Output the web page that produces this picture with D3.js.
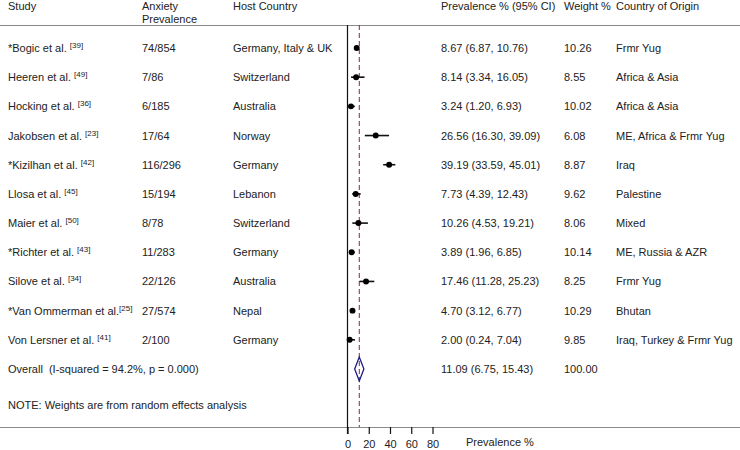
<!DOCTYPE html>
<html><head><meta charset="utf-8">
<script src="https://cdn.jsdelivr.net/npm/d3@7"></script>
<style>body{margin:0;background:#fff}svg{display:block;font-family:"Liberation Sans",Arial,sans-serif}text{white-space:pre}</style>
</head><body><svg id="c" width="740" height="450"></svg>
<script>
const studies = ["*Bogic et al.","Heeren et al.","Hocking et al.","Jakobsen et al.","*Kizilhan et al.","Llosa et al.","Maier et al.","*Richter et al.","Silove et al.","*Van Ommerman et al.","Von Lersner et al."];
const refs = ["39","49","36","23","42","45","50","43","34","25","41"];
const anxiety = ["74/854","7/86","6/185","17/64","116/296","15/194","8/78","11/283","22/126","27/574","2/100"];
const hostCountry = ["Germany, Italy & UK","Switzerland","Australia","Norway","Germany","Lebanon","Switzerland","Germany","Australia","Nepal","Germany"];
const prevalence = [8.67,8.14,3.24,26.56,39.19,7.73,10.26,3.89,17.46,4.70,2.00];
const ciLow = [6.87,3.34,1.20,16.30,33.59,4.39,4.53,1.96,11.28,3.12,0.24];
const ciHigh = [10.76,16.05,6.93,39.09,45.01,12.43,19.21,6.85,25.23,6.77,7.04];
const weights = ["10.26","8.55","10.02","6.08","8.87","9.62","8.06","10.14","8.25","10.29","9.85"];
const origin = ["Frmr Yug","Africa & Asia","Africa & Asia","ME, Africa & Frmr Yug","Iraq","Palestine","Mixed","ME, Russia & AZR","Frmr Yug","Bhutan","Iraq, Turkey & Frmr Yug"];
const overall = {label:"Overall  (I-squared = 94.2%, p = 0.000)", est:11.09, lo:6.75, hi:15.43, w:"100.00"};
const xTicks = [0,20,40,60,80];

const svg = d3.select("#c");
const W = 740;
const txt = "#222";
const x = d3.scaleLinear().domain([0,80]).range([347.5,432.5]);
const rowsIdx = d3.range(studies.length + 1);
const y = d3.scalePoint().domain(rowsIdx).range([48, 369]);
const fmt = d3.format(".2f");
const col = {study:8, anx:142, host:233, ci:441, w:564, orig:616};

// header
const hdr = svg.append("g").attr("fill", txt).attr("font-size", 11);
hdr.append("text").attr("x", col.study).attr("y", 10).text("Study");
hdr.append("text").attr("x", col.anx).attr("y", 10).text("Anxiety");
hdr.append("text").attr("x", col.anx).attr("y", 23).text("Prevalence");
hdr.append("text").attr("x", col.host).attr("y", 10).text("Host Country");
hdr.append("text").attr("x", col.ci).attr("y", 10).text("Prevalence % (95% CI)");
hdr.append("text").attr("x", col.w).attr("y", 10).text("Weight %");
hdr.append("text").attr("x", col.orig).attr("y", 10).text("Country of Origin");

svg.append("line").attr("x1",0).attr("x2",W).attr("y1",25.5).attr("y2",25.5).attr("stroke","#8a8a8a").attr("stroke-width",1);
svg.append("line").attr("x1",0).attr("x2",W).attr("y1",427.5).attr("y2",427.5).attr("stroke","#8a8a8a").attr("stroke-width",1);

// vertical lines
svg.append("line").attr("x1",x(0)).attr("x2",x(0)).attr("y1",25).attr("y2",434).attr("stroke","#111").attr("stroke-width",1.2);
svg.append("line").attr("x1",x(overall.est)).attr("x2",x(overall.est)).attr("y1",25).attr("y2",427)
  .attr("stroke","#9b2323").attr("stroke-width",1).attr("stroke-dasharray","5,3");

// rows
const rows = svg.append("g").attr("fill", txt).attr("font-size", 11);
studies.forEach((s,i) => {
  const yy = y(i) + 4;
  const t = rows.append("text").attr("x", col.study).attr("y", yy);
  t.append("tspan").text(s + (i === 9 ? "" : " "));
  t.append("tspan").attr("font-size", 8).attr("dy", -4).text("[" + refs[i] + "]");
  rows.append("text").attr("x", col.anx).attr("y", yy).text(anxiety[i]);
  rows.append("text").attr("x", col.host).attr("y", yy).text(hostCountry[i]);
  rows.append("text").attr("x", col.ci).attr("y", yy).text(`${fmt(prevalence[i])} (${fmt(ciLow[i])}, ${fmt(ciHigh[i])})`);
  rows.append("text").attr("x", col.w).attr("y", yy).text(weights[i]);
  rows.append("text").attr("x", col.orig).attr("y", yy).text(origin[i]);
});
const oy = y(studies.length);
rows.append("text").attr("x", col.study).attr("y", oy + 4).text(overall.label);
rows.append("text").attr("x", col.ci).attr("y", oy + 4).text(`${fmt(overall.est)} (${fmt(overall.lo)}, ${fmt(overall.hi)})`);
rows.append("text").attr("x", col.w).attr("y", oy + 4).text(overall.w);
rows.append("text").attr("x", col.study).attr("y", 409).text("NOTE: Weights are from random effects analysis");

// CIs and points
const marks = svg.append("g");
studies.forEach((s,i) => {
  marks.append("line").attr("x1", x(ciLow[i])).attr("x2", x(ciHigh[i])).attr("y1", y(i)).attr("y2", y(i))
    .attr("stroke", "#111").attr("stroke-width", 1.6);
  marks.append("path").attr("transform", `translate(${x(prevalence[i])},${y(i)})`)
    .attr("d", d3.symbol(d3.symbolCircle, 28)()).attr("fill", "#000");
});
// overall diamond
marks.append("path")
  .attr("d", `M${x(overall.lo)},${oy} L${x(overall.est)},${oy-12} L${x(overall.hi)},${oy} L${x(overall.est)},${oy+12} Z`)
  .attr("fill", "none").attr("stroke", "#1c1c8a").attr("stroke-width", 1.3);

// axis
const ax = svg.append("g").attr("transform", "translate(0,427)")
  .call(d3.axisBottom(x).tickValues(xTicks).tickSize(7).tickPadding(6));
ax.select(".domain").remove();
ax.selectAll(".tick line").attr("stroke", "#111").attr("stroke-width", 1.2);
ax.selectAll(".tick text").attr("fill", txt).attr("font-size", 11).attr("font-family", "Liberation Sans, Arial, sans-serif");
svg.append("text").attr("x", 466).attr("y", 446).attr("fill", txt).attr("font-size", 11).text("Prevalence %");
</script></body></html>
